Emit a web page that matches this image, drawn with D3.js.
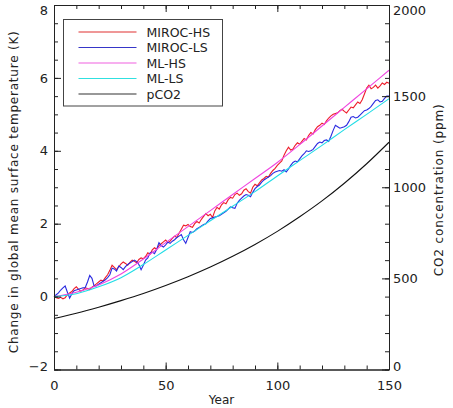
<!DOCTYPE html>
<html>
<head>
<meta charset="utf-8">
<script src="https://cdn.jsdelivr.net/npm/d3@7"></script>
<style>
  body { margin: 0; background: #fff; }
  text { font-family: 'DejaVu Sans', sans-serif; fill: #222; }
</style>
</head>
<body>
<div class="chart-container"></div>
<script>
// data
const years = d3.range(0, 151);
const smoothYears = d3.range(0, 151, 10);

const mirocHS = [
  0.00, -0.03, -0.05, -0.02, -0.06, -0.03, 0.05, 0.10, 0.14, 0.22,
  0.27, 0.20, 0.15, 0.18, 0.24, 0.22, 0.19, 0.26, 0.30, 0.35,
  0.40, 0.45, 0.43, 0.52, 0.60, 0.72, 0.86, 0.80, 0.74, 0.82,
  0.90, 0.95, 0.91, 0.86, 0.94, 1.00, 0.97, 0.93, 1.02, 1.06,
  1.04, 1.10, 1.20, 1.16, 1.28, 1.34, 1.30, 1.40, 1.45, 1.50,
  1.55, 1.48, 1.52, 1.60, 1.66, 1.62, 1.74, 1.85, 1.96, 1.94,
  1.98, 1.92, 1.90, 2.00, 2.06, 2.02, 2.12, 2.20, 2.28, 2.22,
  2.26, 2.17, 2.35, 2.45, 2.40, 2.52, 2.58, 2.55, 2.66, 2.72,
  2.70, 2.80, 2.84, 2.78, 2.82, 2.92, 2.96, 2.88, 2.84, 3.00,
  3.08, 3.04, 3.12, 3.20, 3.24, 3.30, 3.28, 3.38, 3.46, 3.52,
  3.60, 3.66, 3.72, 3.88, 4.00, 4.10, 4.02, 4.05, 4.15, 4.22,
  4.18, 4.26, 4.34, 4.30, 4.42, 4.50, 4.46, 4.58, 4.66, 4.70,
  4.76, 4.72, 4.82, 4.90, 4.96, 5.00, 5.02, 5.04, 5.10, 5.14,
  5.08, 5.04, 5.12, 5.20, 5.18, 5.26, 5.34, 5.30, 5.40, 5.56,
  5.72, 5.80, 5.70, 5.74, 5.80, 5.72, 5.78, 5.86, 5.82, 5.88,
  5.85
];

const mirocLS = [
  0.00, 0.05, 0.10, 0.18, 0.24, 0.29, 0.12, -0.04, 0.08, 0.16,
  0.18, 0.20, 0.22, 0.24, 0.25, 0.40, 0.58, 0.50, 0.28, 0.30,
  0.34, 0.38, 0.42, 0.46, 0.52, 0.60, 0.78, 0.76, 0.70, 0.84,
  0.80, 0.74, 0.82, 0.88, 0.92, 0.96, 1.00, 0.96, 0.88, 0.74,
  0.86, 1.00, 1.06, 1.20, 1.22, 1.18, 1.30, 1.48, 1.40, 1.36,
  1.42, 1.50, 1.46, 1.52, 1.56, 1.62, 1.66, 1.70, 1.56, 1.46,
  1.62, 1.78, 1.76, 1.80, 1.86, 1.90, 1.94, 1.98, 2.00, 2.08,
  2.14, 2.16, 2.18, 2.20, 2.22, 2.26, 2.30, 2.34, 2.40, 2.46,
  2.44, 2.42, 2.56, 2.64, 2.70, 2.76, 2.80, 2.78, 2.74, 2.86,
  2.96, 3.02, 3.06, 3.14, 3.20, 3.24, 3.28, 3.32, 3.38, 3.42,
  3.44, 3.46, 3.44, 3.48, 3.42, 3.50, 3.60, 3.68, 3.72, 3.70,
  3.78, 3.86, 3.92, 4.00, 3.98, 4.00, 4.04, 4.12, 4.20, 4.24,
  4.22, 4.28, 4.30, 4.26, 4.40, 4.56, 4.70, 4.66, 4.62, 4.64,
  4.66, 4.70, 4.80, 4.92, 4.94, 4.90, 4.92, 4.98, 5.04, 5.10,
  5.12, 5.16, 5.22, 5.30, 5.38, 5.40, 5.34, 5.36, 5.44, 5.50,
  5.50
];

// every 10 years
const mlHS = [0.00, 0.12, 0.32, 0.62, 1.03, 1.48, 1.92, 2.36, 2.80, 3.24, 3.68, 4.17, 4.68, 5.19, 5.70, 6.21];
const mlLS = [0.00, 0.08, 0.27, 0.52, 0.88, 1.28, 1.68, 2.08, 2.48, 2.88, 3.31, 3.73, 4.15, 4.58, 5.00, 5.43];
const pco2 = [280, 309, 342, 378, 417, 461, 509, 562, 621, 686, 758, 838, 925, 1022, 1129, 1247];

const seriesNames = ['MIROC-HS', 'MIROC-LS', 'ML-HS', 'ML-LS', 'pCO2'];
const seriesColors = ['#ee1c2a', '#2a2ae0', '#f044e0', '#22dde6', '#111111'];
const legendColors = ['#e03030', '#3636c8', '#f060e0', '#30e0e0', '#333333'];

const xTicks = [0, 50, 100, 150];
const yTicks = [-2, 0, 2, 4, 6, 8];
const y2Ticks = [0, 500, 1000, 1500, 2000];

// layout
const width = 453, height = 408;
const plot = { left: 54, right: 389, top: 5, bottom: 369.5 };

const x = d3.scaleLinear().domain([0, 150]).range([plot.left, plot.right]);
const y = d3.scaleLinear().domain([-2, 8]).range([plot.bottom, plot.top]);
const y2 = d3.scaleLinear().domain([0, 2000]).range([plot.bottom, plot.top]);

const svg = d3.select('.chart-container')
  .append('svg')
  .attr('width', width)
  .attr('height', height);

// series
const line = d3.line().x(d => x(d[0])).y(d => y(d[1]));
const smooth = d3.line().x(d => x(d[0])).y(d => y(d[1])).curve(d3.curveMonotoneX);
const smooth2 = d3.line().x(d => x(d[0])).y(d => y2(d[1])).curve(d3.curveMonotoneX);

const lines = svg.append('g').attr('fill', 'none').attr('stroke-width', 1.1);

lines.append('path').attr('d', line(d3.zip(years, mirocHS))).attr('stroke', seriesColors[0]);
lines.append('path').attr('d', line(d3.zip(years, mirocLS))).attr('stroke', seriesColors[1]);
lines.append('path').attr('d', smooth(d3.zip(smoothYears, mlHS))).attr('stroke', seriesColors[2]);
lines.append('path').attr('d', smooth(d3.zip(smoothYears, mlLS))).attr('stroke', seriesColors[3]);
lines.append('path').attr('d', smooth2(d3.zip(smoothYears, pco2))).attr('stroke', seriesColors[4]);

// axes
function styleAxis(g) {
  g.select('.domain').attr('stroke', '#222');
  g.selectAll('.tick line').attr('stroke', '#222');
  g.selectAll('.tick text').attr('font-size', 13).attr('fill', '#222')
    .attr('font-family', 'DejaVu Sans, sans-serif');
}

// keep the end labels inside the window, as the reference does
function nudgeEnds(g) {
  g.selectAll('.tick text').attr('dy', (d, i, n) =>
    i === n.length - 1 ? '0.75em' : i === 0 ? '0.1em' : '0.32em');
}

// minor ticks first, no labels
svg.append('g').attr('transform', `translate(0,${plot.bottom})`)
  .call(d3.axisTop(x).tickValues(d3.range(0, 151, 10)).tickSize(4).tickFormat('').tickSizeOuter(0))
  .call(styleAxis);
svg.append('g').attr('transform', `translate(0,${plot.top})`)
  .call(d3.axisBottom(x).tickValues(d3.range(0, 151, 10)).tickSize(4).tickFormat('').tickSizeOuter(0))
  .call(styleAxis);
svg.append('g').attr('transform', `translate(${plot.left},0)`)
  .call(d3.axisRight(y).tickValues(d3.range(-2, 8.01, 0.5)).tickSize(4).tickFormat('').tickSizeOuter(0))
  .call(styleAxis);
svg.append('g').attr('transform', `translate(${plot.right},0)`)
  .call(d3.axisLeft(y2).tickValues(d3.range(0, 2001, 100)).tickSize(4).tickFormat('').tickSizeOuter(0))
  .call(styleAxis);

// major ticks
const xAxis = svg.append('g').attr('transform', `translate(0,${plot.bottom})`)
  .call(d3.axisTop(x).tickValues(xTicks).tickSize(7).tickSizeOuter(0))
  .call(styleAxis);
xAxis.selectAll('.tick text').attr('y', 11).attr('dy', '0.71em');

svg.append('g').attr('transform', `translate(0,${plot.top})`)
  .call(d3.axisBottom(x).tickValues(xTicks).tickSize(7).tickFormat('').tickSizeOuter(0))
  .call(styleAxis);

const yAxis = svg.append('g').attr('transform', `translate(${plot.left},0)`)
  .call(d3.axisRight(y).tickValues(yTicks).tickSize(7).tickSizeOuter(0)
    .tickFormat(d => d < 0 ? '\u2212' + Math.abs(d) : d))
  .call(styleAxis)
  .call(nudgeEnds);
yAxis.selectAll('.tick text').attr('x', -6).attr('text-anchor', 'end');

const y2Axis = svg.append('g').attr('transform', `translate(${plot.right},0)`)
  .call(d3.axisLeft(y2).tickValues(y2Ticks).tickSize(7).tickSizeOuter(0).tickFormat(d => d))
  .call(styleAxis)
  .call(nudgeEnds);
y2Axis.selectAll('.tick text').attr('x', 4).attr('text-anchor', 'start');

// axis titles
svg.append('text')
  .attr('x', (plot.left + plot.right) / 2)
  .attr('y', 404)
  .attr('text-anchor', 'middle')
  .attr('font-size', 12)
  .text('Year');

svg.append('text')
  .attr('transform', `translate(18,${(plot.top + plot.bottom) / 2 + 5}) rotate(-90)`)
  .attr('text-anchor', 'middle')
  .attr('font-size', 12)
  .attr('textLength', 322)
  .attr('lengthAdjust', 'spacing')
  .text('Change in global mean surface temperature (K)');

svg.append('text')
  .attr('transform', `translate(443,${(plot.top + plot.bottom) / 2 + 3}) rotate(-90)`)
  .attr('text-anchor', 'middle')
  .attr('font-size', 12)
  .attr('textLength', 172)
  .attr('lengthAdjust', 'spacing')
  .text('CO2 concentration (ppm)');

// legend
const legend = svg.append('g').attr('transform', 'translate(63.5,19.5)');
legend.append('rect')
  .attr('width', 159)
  .attr('height', 86.5)
  .attr('fill', '#fff')
  .attr('stroke', '#444');

const rows = legend.selectAll('.row')
  .data(seriesNames)
  .enter()
  .append('g')
  .attr('transform', (d, i) => `translate(0,${12.5 + i * 15.5})`);

rows.append('line')
  .attr('x1', 15).attr('x2', 73)
  .attr('stroke', (d, i) => legendColors[i])
  .attr('stroke-width', 1.2);

rows.append('text')
  .attr('x', 83)
  .attr('dy', '0.36em')
  .attr('font-size', 12.5)
  .text(d => d);
</script>
</body>
</html>
